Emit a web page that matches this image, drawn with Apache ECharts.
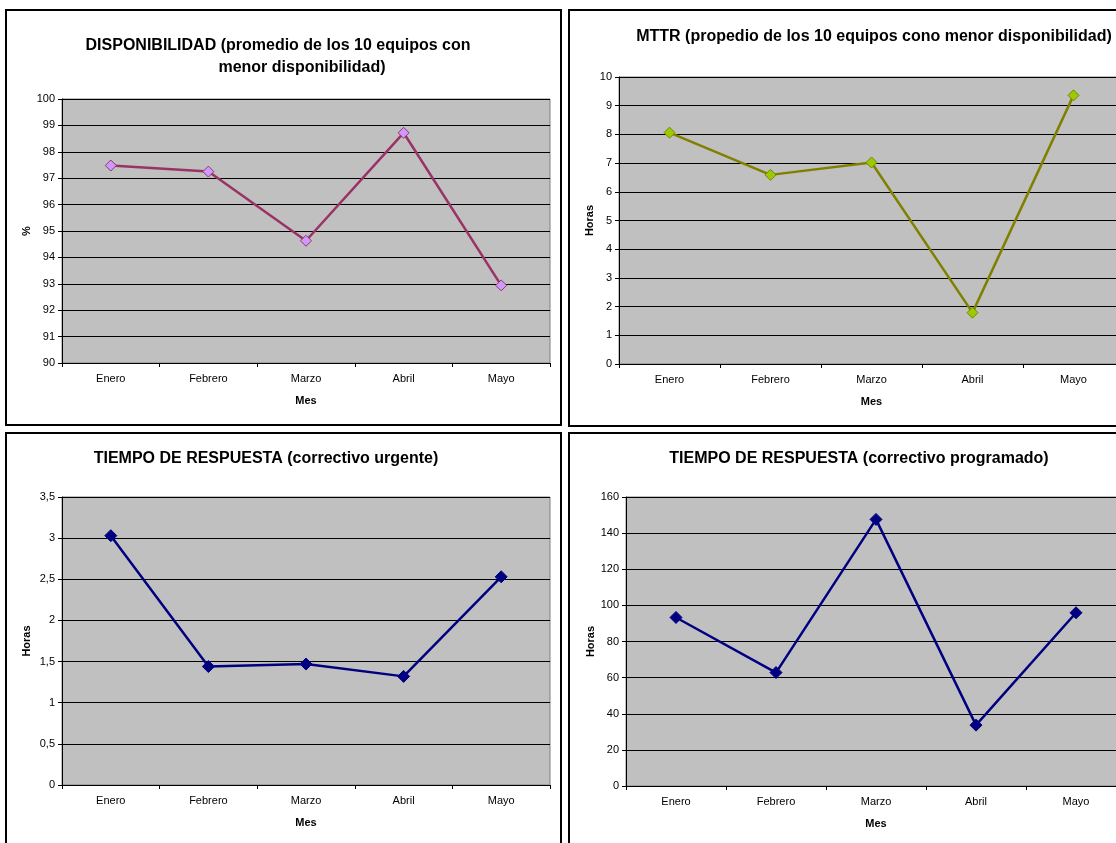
<!DOCTYPE html>
<html>
<head>
<meta charset="utf-8">
<style>
  html, body { margin: 0; padding: 0; overflow: hidden; background: #ffffff; }
  #chart { position: absolute; left: 0; top: 0; width: 1140px; height: 870px; }
</style>
<script src="https://cdn.jsdelivr.net/npm/echarts@6/dist/echarts.min.js"></script>
</head>
<body>
<div id="chart"></div>
<script>
// Meses del informe
const meses = ['Enero', 'Febrero', 'Marzo', 'Abril', 'Mayo'];

// Disponibilidad media (%) de los 10 equipos con menor disponibilidad
const disponibilidad = [97.48, 97.25, 94.63, 98.72, 92.94];
// MTTR medio (horas)
const mttr = [8.06, 6.59, 7.02, 1.79, 9.36];
// Tiempo de respuesta, correctivo urgente (horas)
const respUrgente = [3.03, 1.44, 1.47, 1.32, 2.53];
// Tiempo de respuesta, correctivo programado (horas)
const respProgramado = [93.3, 62.8, 147.6, 33.7, 95.9];

const FONT = '"Liberation Sans", Arial, sans-serif';

function gridBox(left, top, width, height) {
  return {
    left, top, width, height,
    show: true,
    backgroundColor: '#C0C0C0',
    borderColor: '#808080',
    borderWidth: 1,
    containLabel: false
  };
}

function xAxisFor(gridIndex) {
  return {
    type: 'category',
    gridIndex,
    data: meses,
    boundaryGap: true,
    name: 'Mes',
    nameLocation: 'middle',
    nameGap: 32,
    nameTextStyle: { fontFamily: FONT, fontSize: 11, fontWeight: 'bold', color: '#000' },
    axisLine: { show: true, lineStyle: { color: '#000', width: 1 } },
    axisTick: { show: true, alignWithLabel: false, length: 4, lineStyle: { color: '#000' } },
    axisLabel: { fontFamily: FONT, fontSize: 11, color: '#000', margin: 10 },
    splitLine: { show: false }
  };
}

function yAxisFor(gridIndex, min, max, interval, name, gap, formatter) {
  return {
    type: 'value',
    gridIndex,
    min, max, interval,
    name,
    nameLocation: 'middle',
    nameGap: gap,
    nameRotate: 90,
    nameTextStyle: { fontFamily: FONT, fontSize: 11, fontWeight: 'bold', color: '#000' },
    axisLine: { show: true, lineStyle: { color: '#000', width: 1 } },
    axisTick: { show: true, length: 4, lineStyle: { color: '#000' } },
    axisLabel: { fontFamily: FONT, fontSize: 11, color: '#000', margin: 7, formatter },
    splitLine: { show: true, lineStyle: { color: '#000', width: 1 } }
  };
}

function lineSeries(idx, data, lineColor, fill, border, size) {
  return {
    type: 'line',
    xAxisIndex: idx,
    yAxisIndex: idx,
    data,
    symbol: 'diamond',
    symbolSize: size,
    lineStyle: { color: lineColor, width: 2.5 },
    itemStyle: { color: fill, borderColor: border, borderWidth: 1 },
    z: 3
  };
}

const comma = v => String(v).replace('.', ',');

function titleAt(text, cx, top) {
  return {
    text,
    left: cx,
    top,
    textAlign: 'center',
    textStyle: { fontFamily: FONT, fontSize: 16, fontWeight: 'bold', color: '#000' }
  };
}

function frame(x, y, w, h) {
  return {
    type: 'rect',
    shape: { x, y, width: w, height: h },
    style: { fill: 'none', stroke: '#000', lineWidth: 2 },
    silent: true
  };
}

const chart = echarts.init(document.getElementById('chart'), null, { renderer: 'canvas' });

chart.setOption({
  animation: false,
  backgroundColor: '#ffffff',
  title: [
    titleAt('DISPONIBILIDAD (promedio de los 10 equipos con', 273, 33),
    titleAt('menor disponibilidad)', 297, 55),
    titleAt('MTTR (propedio de los 10 equipos cono menor disponibilidad)', 869, 24),
    titleAt('TIEMPO DE RESPUESTA (correctivo urgente)', 261, 446),
    titleAt('TIEMPO DE RESPUESTA (correctivo programado)', 854, 446)
  ],
  graphic: [
    frame(6, 10, 555, 415),
    frame(569, 10, 600, 416),
    frame(6, 433, 555, 450),
    frame(569, 433, 600, 450)
  ],
  grid: [
    gridBox(62, 99, 488, 264),
    gridBox(619, 77, 505, 287),
    gridBox(62, 497, 488, 288),
    gridBox(626, 497, 500, 289)
  ],
  xAxis: [xAxisFor(0), xAxisFor(1), xAxisFor(2), xAxisFor(3)],
  yAxis: [
    yAxisFor(0, 90, 100, 1, '%', 30),
    yAxisFor(1, 0, 10, 1, 'Horas', 23),
    yAxisFor(2, 0, 3.5, 0.5, 'Horas', 30, comma),
    yAxisFor(3, 0, 160, 20, 'Horas', 29)
  ],
  series: [
    lineSeries(0, disponibilidad, '#993366', '#CC99FF', '#993366', 11),
    lineSeries(1, mttr, '#808000', '#99CC00', '#808000', 11),
    lineSeries(2, respUrgente, '#000080', '#000080', '#000080', 12),
    lineSeries(3, respProgramado, '#000080', '#000080', '#000080', 12)
  ]
});
</script>
</body>
</html>
